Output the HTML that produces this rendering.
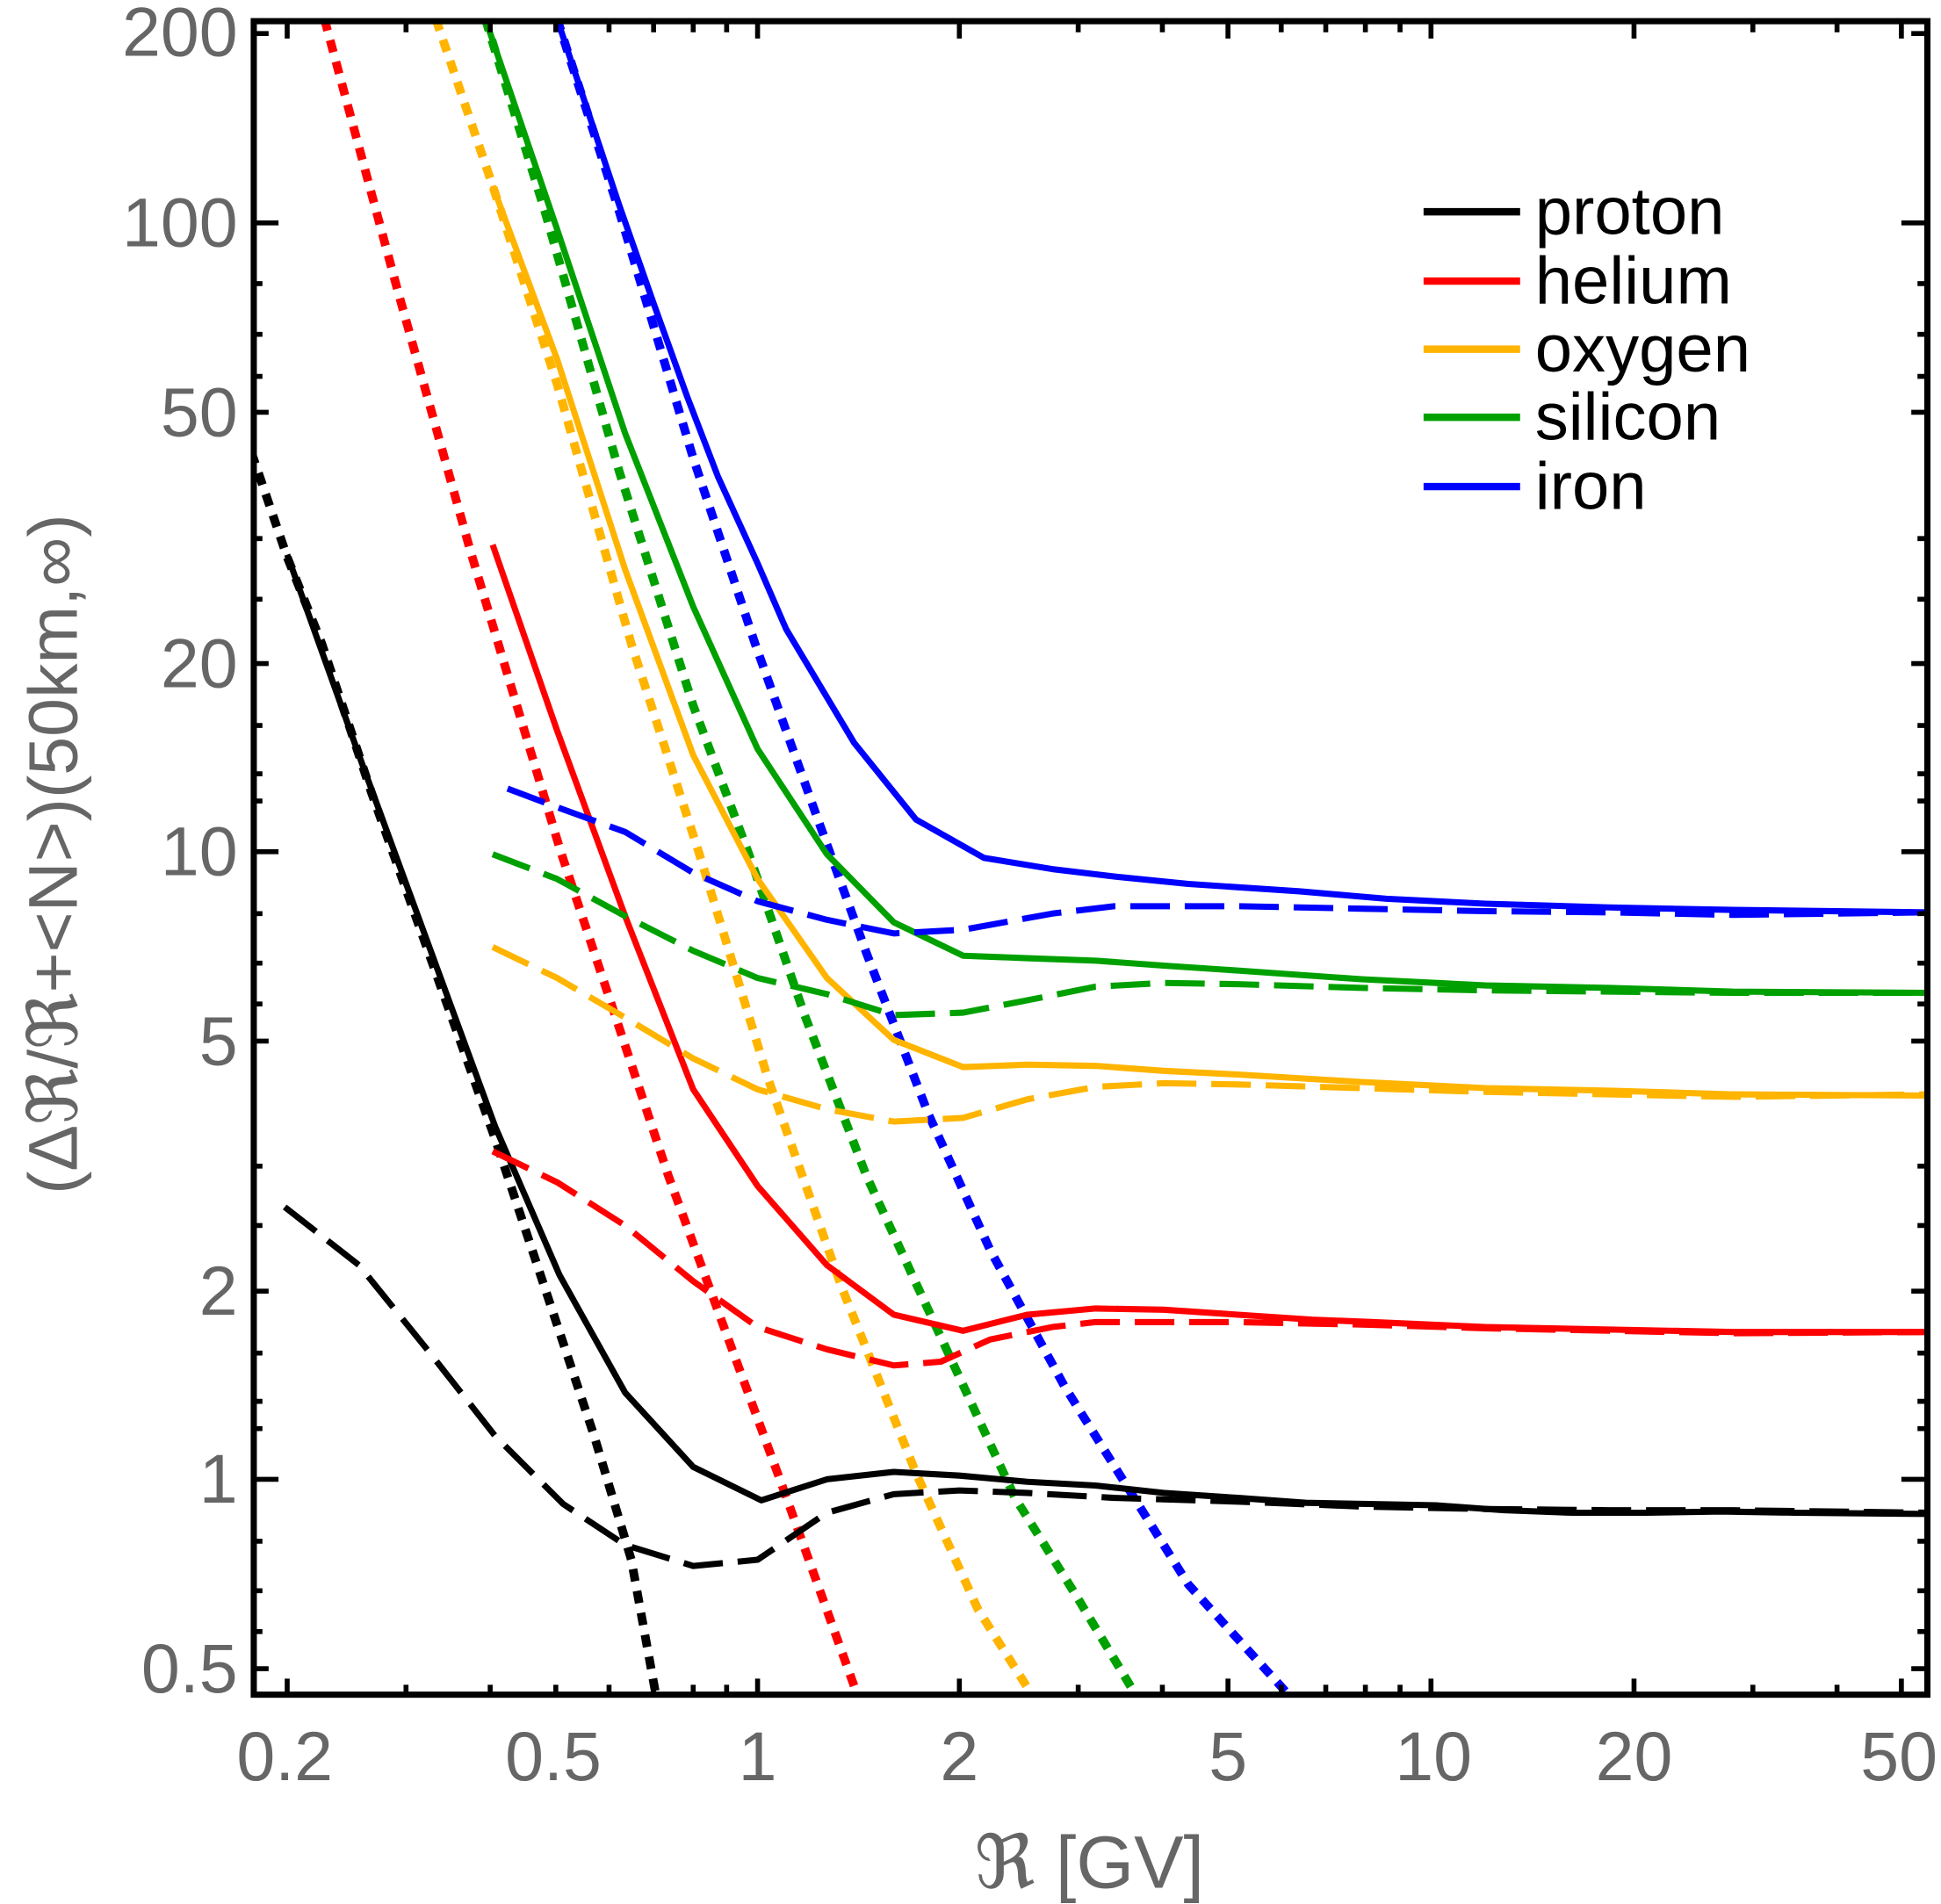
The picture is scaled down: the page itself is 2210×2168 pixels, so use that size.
<!DOCTYPE html>
<html><head><meta charset="utf-8"><style>html,body{margin:0;padding:0;background:#fff}svg{display:block}</style></head>
<body>
<svg width="2210" height="2168" viewBox="0 0 1568 1538" xmlns="http://www.w3.org/2000/svg" font-family="Liberation Sans, Arial, sans-serif">
<defs><clipPath id="c"><rect x="203" y="17" width="1355" height="1353"/></clipPath></defs>
<rect width="1568" height="1538" fill="#fff"/>
<g clip-path="url(#c)" fill="none" stroke-linejoin="round">
<g stroke-width="7" stroke-dasharray="10 8">
<polyline stroke="#000" points="203,365 232,450 260,520 300,640 350,780 400,920 440,1040 480,1160 510,1260 530,1370"/>
<polyline stroke="#f00" points="262,15 320,230 380,445 453,688 540,950 630,1195 690,1362"/>
<polyline stroke="#ffb400" points="352,15 398,150 450,310 510,520 565,690 620,870 680,1040 740,1190 790,1300 833,1368"/>
<polyline stroke="#00a000" points="392,15 440,170 500,380 560,570 605,690 650,820 700,950 760,1080 820,1210 870,1290 915,1365"/>
<polyline stroke="#00f" points="450,15 500,170 560,370 610,520 660,660 700,770 750,900 800,1010 860,1120 910,1200 960,1280 1040,1368"/>
</g>
<g stroke-width="5">
<polyline stroke="#000" points="232,448 290,610 345,760 400,910 452,1030 505,1125 560,1185 615,1212 668,1195 722,1189 775,1192 830,1197 885,1200 940,1206 1000,1210 1055,1214 1110,1215 1160,1216 1215,1220 1270,1222 1330,1222 1390,1221 1450,1222 1558,1223"/>
<polyline stroke="#f00" points="398,440 450,590 505,740 560,880 612,958 668,1022 722,1062 778,1075 830,1062 885,1057 940,1058 1000,1062 1060,1066 1110,1068 1200,1072 1300,1074 1400,1076 1558,1076"/>
<polyline stroke="#ffb400" points="398,150 450,290 505,460 560,610 612,710 668,790 722,840 778,862 830,860 885,861 940,865 1000,868 1100,874 1200,879 1300,881 1400,884 1558,885"/>
<polyline stroke="#00a000" points="392,15 450,185 505,350 560,490 612,605 668,690 722,745 778,772 830,774 885,776 940,780 1000,784 1100,791 1200,796 1300,798 1400,801 1558,802"/>
<polyline stroke="#00f" points="450,15 475,90 500,165 528,245 555,320 580,385 612,455 635,508 690,600 740,662 795,693 850,702 900,708 960,714 1050,720 1120,726 1200,730 1300,733 1400,735 1558,737"/>
</g>
<g stroke-width="5" stroke-dasharray="32 12">
<polyline stroke="#000" points="230,975 290,1022 345,1090 400,1160 455,1215 505,1248 560,1265 612,1260 668,1222 722,1207 775,1204 830,1206 900,1210 1000,1213 1100,1217 1200,1219 1300,1220 1400,1220 1558,1222"/>
<polyline stroke="#f00" points="398,930 450,955 505,990 560,1035 612,1072 668,1090 722,1103 760,1100 800,1082 850,1072 885,1068 1000,1068 1100,1070 1200,1073 1300,1075 1400,1077 1558,1076"/>
<polyline stroke="#ffb400" points="398,765 450,790 505,822 560,855 612,880 668,896 722,906 778,903 830,888 885,878 940,875 1000,876 1100,879 1200,882 1300,884 1400,886 1558,884"/>
<polyline stroke="#00a000" points="398,690 450,710 505,740 560,768 612,790 668,803 722,820 778,818 830,808 885,797 940,794 1000,795 1100,798 1200,800 1300,801 1400,802 1558,802"/>
<polyline stroke="#00f" points="410,637 450,652 505,672 560,705 612,728 668,743 722,754 778,751 850,738 900,732 1000,732 1100,734 1200,736 1300,737 1400,739 1558,737"/>
</g>
</g>
<g stroke="#000" stroke-width="4">
<path d="M232,1370v-14M612,1370v-14M775,1370v-14M992,1370v-14M1156,1370v-14M1320,1370v-14M1536,1370v-14M232,17v14M612,17v14M775,17v14M992,17v14M1156,17v14M1320,17v14M1536,17v14"/>
<path d="M328,1370v-9M396,1370v-9M449,1370v-9M492,1370v-9M528,1370v-9M560,1370v-9M587,1370v-9M871,1370v-9M939,1370v-9M1035,1370v-9M1071,1370v-9M1103,1370v-9M1131,1370v-9M1416,1370v-9M1484,1370v-9M328,17v9M396,17v9M449,17v9M492,17v9M528,17v9M560,17v9M587,17v9M871,17v9M939,17v9M1035,17v9M1071,17v9M1103,17v9M1131,17v9M1416,17v9M1484,17v9"/>
<path d="M203,180h22M203,688h22M203,1195h22M203,333h14M203,536h14M203,841h14M203,1043h14M203,1348h14M1558,180h-22M1558,688h-22M1558,1195h-22M1558,333h-14M1558,536h-14M1558,841h-14M1558,1043h-14M1558,1348h-14"/>
<path d="M203,27h14M203,229h9M203,270h9M203,304h9M203,435h9M203,484h9M203,586h9M203,625h9M203,647h9M203,738h9M203,778h9M203,811h9M203,942h9M203,990h9M203,1093h9M203,1132h9M203,1154h9M203,1245h9M203,1285h9M203,1318h9M1558,27h-14M1558,229h-9M1558,270h-9M1558,304h-9M1558,435h-9M1558,484h-9M1558,586h-9M1558,625h-9M1558,647h-9M1558,738h-9M1558,778h-9M1558,811h-9M1558,942h-9M1558,990h-9M1558,1093h-9M1558,1132h-9M1558,1154h-9M1558,1245h-9M1558,1285h-9M1558,1318h-9"/>
</g>
<rect x="205" y="17" width="1352" height="1352" fill="none" stroke="#000" stroke-width="5"/>
<g fill="#666" font-size="56">
<g text-anchor="middle">
<text x="230" y="1438">0.2</text><text x="447" y="1438">0.5</text><text x="612" y="1438">1</text><text x="775" y="1438">2</text><text x="992" y="1438">5</text><text x="1158" y="1438">10</text><text x="1320" y="1438">20</text><text x="1534" y="1438">50</text>
</g>
<g text-anchor="end">
<text x="192" y="45">200</text><text x="192" y="199">100</text><text x="192" y="352">50</text><text x="192" y="555">20</text><text x="192" y="707">10</text><text x="192" y="860">5</text><text x="192" y="1062">2</text><text x="192" y="1214">1</text><text x="192" y="1367">0.5</text>
</g>
<text x="880" y="1525" text-anchor="middle" font-size="60">ℜ [GV]</text>
<text transform="translate(62,690) rotate(-90)" text-anchor="middle" font-size="56">(Δℜ/ℜ+&lt;N&gt;)(50km,∞)</text>
</g>
<g stroke-width="6">
<line x1="1150" y1="171" x2="1228" y2="171" stroke="#000"/>
<line x1="1150" y1="227" x2="1228" y2="227" stroke="#f00"/>
<line x1="1150" y1="282" x2="1228" y2="282" stroke="#ffb400"/>
<line x1="1150" y1="337" x2="1228" y2="337" stroke="#00a000"/>
<line x1="1150" y1="393" x2="1228" y2="393" stroke="#00f"/>
</g>
<g font-size="54" fill="#000">
<text x="1240" y="189">proton</text><text x="1240" y="245">helium</text><text x="1240" y="300">oxygen</text><text x="1240" y="355">silicon</text><text x="1240" y="411">iron</text>
</g>
</svg>
</body></html>
